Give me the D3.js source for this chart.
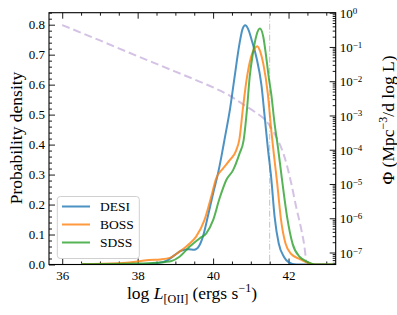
<!DOCTYPE html>
<html><head><meta charset="utf-8">
<script src="https://cdn.jsdelivr.net/npm/d3@7"></script>
<style>
body{margin:0;background:#fff;}
text{font-family:"Liberation Serif","DejaVu Serif",serif;fill:#000;}
</style></head>
<body><svg id="c" width="397" height="315"></svg>
<script>
// ---- data ----
const desiX = [36.5,38.0,38.5,38.8,39.0,39.15,39.35,39.5,39.62,39.73,39.86,40.0,40.13,40.22,40.3,40.45,40.57,40.7,40.78,40.85,40.93,41.02,41.15,41.28,41.37,41.45,41.54,41.63,41.74,41.88,42.0,42.2,43.2];
const desiY = [0.0,0.0,0.004,0.015,0.033,0.046,0.051,0.049,0.06,0.093,0.16,0.237,0.304,0.36,0.415,0.52,0.626,0.737,0.785,0.798,0.785,0.75,0.69,0.60,0.49,0.39,0.29,0.16,0.07,0.025,0.008,0.0,0.0];
const bossX = [36.5,37.5,38.0,38.3,38.6,38.85,39.11,39.38,39.55,39.77,39.95,40.08,40.26,40.44,40.61,40.7,40.79,40.88,41.0,41.1,41.17,41.25,41.33,41.45,41.54,41.6,41.7,41.8,41.92,42.07,42.3,42.5,42.7,43.2];
const bossY = [0.001,0.004,0.01,0.015,0.017,0.022,0.043,0.07,0.093,0.148,0.226,0.287,0.32,0.348,0.38,0.42,0.52,0.61,0.69,0.72,0.728,0.71,0.67,0.57,0.45,0.38,0.27,0.15,0.07,0.035,0.018,0.006,0.0,0.0];
const sdssX = [36.5,38.0,38.5,38.9,39.11,39.38,39.64,39.82,40.0,40.17,40.35,40.53,40.7,40.81,40.9,40.97,41.05,41.15,41.24,41.33,41.41,41.48,41.54,41.63,41.72,41.82,41.96,42.11,42.3,42.45,42.7,43.2];
const sdssY = [0.001,0.003,0.006,0.012,0.026,0.06,0.087,0.104,0.148,0.22,0.282,0.315,0.37,0.415,0.52,0.626,0.70,0.765,0.787,0.76,0.69,0.62,0.57,0.47,0.39,0.29,0.16,0.068,0.025,0.012,0.0,0.0];
// luminosity function (right axis), log10 Phi
const lfX = [36.0,37.0,38.0,39.0,39.64,40.0,40.44,40.83,41.1,41.45,41.67,41.89,42.07,42.2,42.34,42.42,42.47];
const lfLogPhi = [-0.36,-0.81,-1.27,-1.72,-2.01,-2.18,-2.42,-2.70,-2.89,-3.22,-3.62,-4.20,-4.97,-5.66,-6.34,-6.82,-7.30];
const cutX = 41.5;
const seriesNames = ["DESI","BOSS","SDSS"];
const seriesColors = ["#1f77b4","#ff7f0e","#2ca02c"];
const xTicks = [36,38,40,42];
const yTicks = [0.0,0.1,0.2,0.3,0.4,0.5,0.6,0.7,0.8];
const rTicks = [0,-1,-2,-3,-4,-5,-6,-7];

// ---- layout ----
const L=49, R=335.7, T=12.7, B=264.5;
const svg = d3.select("#c");
const x = d3.scaleLinear().domain([35.65,43.25]).range([L,R]);
const y = d3.scaleLinear().domain([0,0.84]).range([B,T]);
const yr = d3.scaleLog().domain([Math.pow(10,-7.35),1]).range([B,T]);

svg.append("defs").append("clipPath").attr("id","clip")
  .append("rect").attr("x",L).attr("y",T).attr("width",R-L).attr("height",B-T);

const fs = "13px";
// x axis
const xMinor = d3.range(35.5,43.3,0.5).filter(v=>v>=35.65 && v<=43.25 && v%2!==0);
function styleAxis(g){ g.select(".domain").remove(); g.selectAll("line").attr("stroke","#000").attr("stroke-width",0.9); g.selectAll("text").style("font-size",fs); }
svg.append("g").attr("transform",`translate(0,${B})`).call(d3.axisBottom(x).tickValues(xTicks).tickSize(-6).tickPadding(6).tickFormat(d3.format("d"))).call(styleAxis);
svg.append("g").attr("transform",`translate(0,${B})`).call(d3.axisBottom(x).tickValues(xMinor).tickSize(-3).tickFormat("")).call(styleAxis);
svg.append("g").attr("transform",`translate(0,${T})`).call(d3.axisTop(x).tickValues(xTicks).tickSize(-6).tickFormat("")).call(styleAxis);
svg.append("g").attr("transform",`translate(0,${T})`).call(d3.axisTop(x).tickValues(xMinor).tickSize(-3).tickFormat("")).call(styleAxis);
// left axis
const yMinor = d3.range(0,0.841,0.02).filter(v=>Math.abs(v*10-Math.round(v*10))>1e-6);
svg.append("g").attr("transform",`translate(${L},0)`).call(d3.axisLeft(y).tickValues(yTicks).tickSize(-6).tickPadding(4).tickFormat(d3.format(".1f"))).call(styleAxis);
svg.append("g").attr("transform",`translate(${L},0)`).call(d3.axisLeft(y).tickValues(yMinor).tickSize(-3).tickFormat("")).call(styleAxis);
// right log axis
const rMinor = [];
for(let k=-8;k<0;k++) for(let m=2;m<10;m++){ const v=m*Math.pow(10,k); if(v>=yr.domain()[0] && v<=1) rMinor.push(v); }
const gr = svg.append("g").attr("transform",`translate(${R},0)`).call(d3.axisRight(yr).tickValues(rTicks.map(e=>Math.pow(10,e))).tickSize(-6).tickPadding(4).tickFormat(()=>"")).call(styleAxis);
gr.selectAll(".tick text").each(function(d,i){
  const t=d3.select(this); t.text(null).attr("dy","0.35em");
  t.append("tspan").text("10");
  t.append("tspan").attr("dy","-0.45em").style("font-size","9px").text(rTicks[i]===0?"0":"\u2212"+(-rTicks[i]));
});
svg.append("g").attr("transform",`translate(${R},0)`).call(d3.axisRight(yr).tickValues(rMinor).tickSize(-3).tickFormat("")).call(styleAxis);

// ---- marks ----
const plot = svg.append("g").attr("clip-path","url(#clip)");
// luminosity function
const lfLine = d3.line().x(d=>x(d[0])).y(d=>yr(Math.pow(10,d[1]))).curve(d3.curveMonotoneX);
plot.append("path").datum(lfX.map((v,i)=>[v,lfLogPhi[i]])).attr("d",lfLine)
  .attr("fill","none").attr("stroke","#9467bd").attr("stroke-opacity",0.4).attr("stroke-width",2).attr("stroke-dasharray","8,4");
// cut line
plot.append("line").attr("x1",x(cutX)).attr("x2",x(cutX)).attr("y1",T).attr("y2",B)
  .attr("stroke","#999").attr("stroke-opacity",0.6).attr("stroke-width",1).attr("stroke-dasharray","6,2,1,2");
const dLine = d3.line().x(d=>x(d[0])).y(d=>y(d[1])).curve(d3.curveMonotoneX);
const allX=[desiX,bossX,sdssX], allY=[desiY,bossY,sdssY];
allX.forEach((xs,k)=>{
  plot.append("path").datum(xs.map((v,i)=>[v,allY[k][i]])).attr("d",dLine)
   .attr("fill","none").attr("stroke",seriesColors[k]).attr("stroke-opacity",0.8).attr("stroke-width",2);
});

// frame
svg.append("rect").attr("x",L).attr("y",T).attr("width",R-L).attr("height",B-T).attr("fill","none").attr("stroke","#000").attr("stroke-width",1.1);

// legend
const lg = svg.append("g");
lg.append("rect").attr("x",57.3).attr("y",196.5).attr("width",82).attr("height",62).attr("rx",3)
  .attr("fill","#fff").attr("fill-opacity",0.8).attr("stroke","#d0d0d0").attr("stroke-width",1);
seriesNames.forEach((n,i)=>{
  const yy = 206.5 + i*18;
  lg.append("line").attr("x1",62).attr("x2",90).attr("y1",yy).attr("y2",yy).attr("stroke",seriesColors[i]).attr("stroke-opacity",0.8).attr("stroke-width",2);
  lg.append("text").attr("x",100).attr("y",yy).attr("dy","0.35em").style("font-size","13.5px").text(n);
});

// axis labels
const xl = svg.append("text").attr("x",192).attr("y",299).attr("text-anchor","middle").style("font-size","17.5px");
xl.append("tspan").text("log  ");
xl.append("tspan").style("font-style","italic").text("L");
xl.append("tspan").attr("dy","3.5").style("font-size","12px").text("[OII]");
xl.append("tspan").attr("dy","-3.5").text(" (ergs s");
xl.append("tspan").attr("dy","-7").style("font-size","12px").text("\u22121");
xl.append("tspan").attr("dy","7").text(")");

svg.append("text").attr("transform","translate(22,138) rotate(-90)").attr("text-anchor","middle").style("font-size","17.5px").text("Probability density");
const rl = svg.append("text").attr("transform","translate(394,120) rotate(-90)").attr("text-anchor","middle").style("font-size","17.5px");
rl.append("tspan").text("\u03A6 (Mpc");
rl.append("tspan").attr("dy","-7").style("font-size","12px").text("\u22123");
rl.append("tspan").attr("dy","7").text("/d log L)");
</script></body></html>
